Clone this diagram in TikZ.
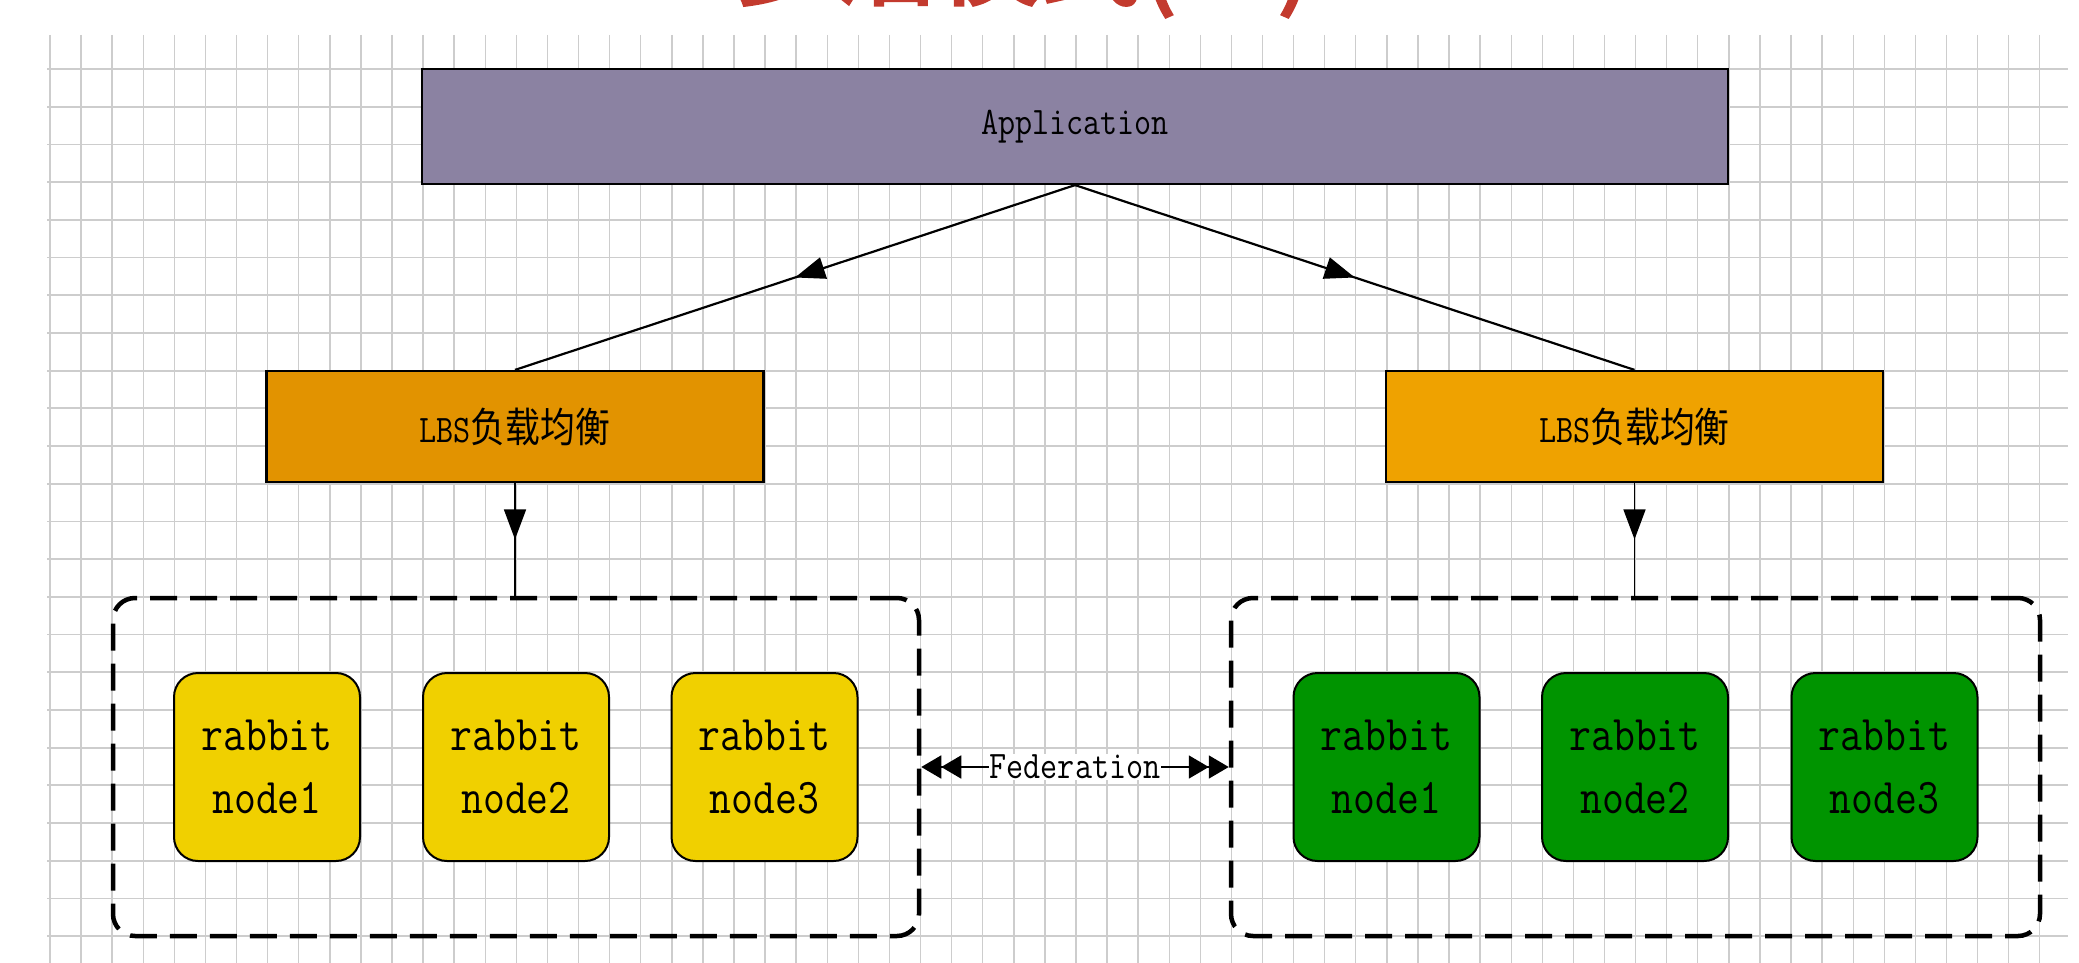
\documentclass[tikz,border=0pt]{standalone}
\usepackage{fontspec}
\usepackage{graphicx}
\newfontfamily\cjk{Noto Sans CJK SC}
\newfontfamily\cjktitle[FakeBold=3]{Noto Sans CJK SC}
\usetikzlibrary{arrows.meta,decorations.markings}
\definecolor{appfill}{RGB}{139,130,162}
\definecolor{lbsL}{RGB}{226,147,0}
\definecolor{lbsR}{RGB}{239,162,0}
\definecolor{rabY}{RGB}{240,208,0}
\definecolor{rabG}{RGB}{0,148,0}
\definecolor{gridgray}{RGB}{205,205,205}
\definecolor{titlered}{RGB}{195,58,46}
\newcommand{\sq}[1]{\scalebox{0.85}[1]{#1}}
\begin{document}
\begin{tikzpicture}[x=1pt,y=-1pt,
  gridv/.style={draw=gridgray, line width=1.4pt},
  gridh/.style={draw=gridgray, line width=1.8pt},
  box/.style={draw=black, line width=2.2pt, inner sep=0pt,
    font=\ttfamily\fontsize{39}{47}\selectfont},
  appbox/.style={box, fill=appfill, minimum width=1306pt, minimum height=115pt},
  lbsbox/.style={box, minimum width=497pt, minimum height=111pt},
  rabbit/.style={draw=black, line width=2pt, rounded corners=24pt,
    minimum width=186pt, minimum height=188pt, align=center, inner sep=0pt,
    font=\ttfamily\fontsize{50}{63}\selectfont},
  cluster/.style={draw=black, line width=4.5pt, dash pattern=on 27pt off 13pt,
    rounded corners=22pt, minimum height=338pt, inner sep=0pt},
  conn/.style={draw=black, line width=2.2pt},
  midarrow/.style={postaction={decorate}, decoration={markings,
    mark=at position 0.5 with {\arrow{Triangle[length=30pt,width=22pt]}}}},
  fedtip/.tip={Triangle[length=20pt,width=23pt,sep=0pt] Triangle[length=20pt,width=23pt]}
]
\useasboundingbox (0,0) rectangle (2079,963);
\fill[white] (0,0) rectangle (2079,963);
% grid
\foreach \i in {0,...,64} \draw[gridv] ({50+31.09*\i},35) -- ({50+31.09*\i},963);
\foreach \j in {0,...,23} \draw[gridh] (47,{69+37.7*\j}) -- (2068,{69+37.7*\j});
% clipped title
\begin{scope}
\clip (0,0) rectangle (2079,963);
\node[anchor=base, inner sep=0pt, text=titlered,
  font=\cjktitle\fontsize{102}{110}\selectfont] (title) at (1023,-3) {多活模式(二)};
\end{scope}
% nodes
\node[appbox] (app) at (1075,126.5) {\sq{Application}};
\node[lbsbox, fill=lbsL] (lbsl) at (515,426.5) {\sq{LBS{\cjk\fontsize{41}{47}\selectfont 负载均衡}}};
\node[lbsbox, fill=lbsR] (lbsr) at (1634.5,426.5) {\sq{LBS{\cjk\fontsize{41}{47}\selectfont 负载均衡}}};
\node[cluster, minimum width=806pt] (cl) at (516,767) {};
\node[cluster, minimum width=809pt] (cr) at (1635.5,767) {};
\node[rabbit, fill=rabY] (l1) at (267,767) {\sq{rabbit}\\\sq{node1}};
\node[rabbit, fill=rabY] (l2) at (516,767) {\sq{rabbit}\\\sq{node2}};
\node[rabbit, fill=rabY] (l3) at (764.5,767) {\sq{rabbit}\\\sq{node3}};
\node[rabbit, fill=rabG] (r1) at (1386.5,767) {\sq{rabbit}\\\sq{node1}};
\node[rabbit, fill=rabG] (r2) at (1635,767) {\sq{rabbit}\\\sq{node2}};
\node[rabbit, fill=rabG] (r3) at (1884.5,767) {\sq{rabbit}\\\sq{node3}};
% connectors
\draw[conn, midarrow] (app.south) -- (lbsl.north);
\draw[conn, midarrow] (app.south) -- (lbsr.north);
\draw[conn, line width=1.6pt, midarrow] (lbsl.south) -- (lbsl.south |- cl.north);
\draw[conn, line width=1.6pt, midarrow] (lbsr.south) -- (lbsr.south |- cr.north);
\draw[conn, line width=1.8pt, fedtip-fedtip] (cl.east) -- node[fill=white, inner sep=1pt,
  font=\ttfamily\fontsize{39}{47}\selectfont] (fed) {\sq{Federation}} (cr.west);
\end{tikzpicture}
\end{document}
